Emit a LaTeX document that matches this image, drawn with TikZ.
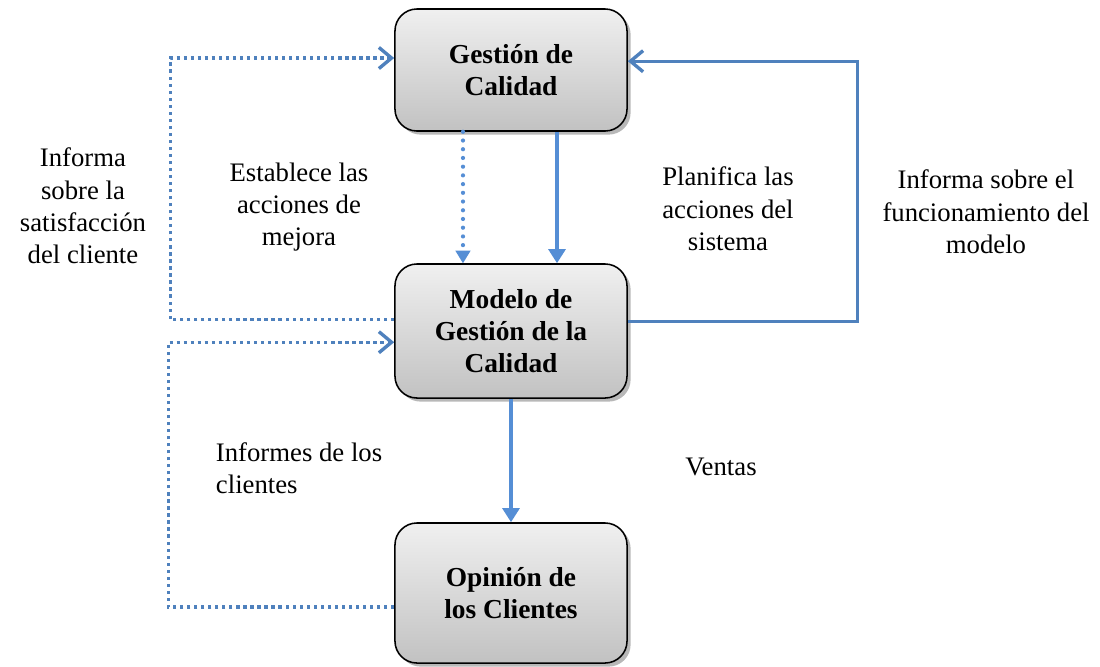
\documentclass[tikz,border=0pt]{standalone}
\usepackage{fontspec}
\setmainfont{Liberation Serif}
\usetikzlibrary{positioning}
\usetikzlibrary{arrows.meta}
\usetikzlibrary{shadows}
\definecolor{lineblue}{HTML}{4F81BD}
\definecolor{arrowblue}{HTML}{558ED5}

\begin{document}
\begin{tikzpicture}[x=0.025cm,y=-0.025cm,
	caja/.style={draw=black,line width=1.1pt,rounded corners=0.55cm,
		top color=gray!12,bottom color=gray!48,
		drop shadow={shadow xshift=0.09cm,shadow yshift=-0.09cm,fill=gray!70,opacity=0.8},
		minimum width=5.8cm,minimum height=3.05cm,align=center,
		font=\fontsize{19.5pt}{23pt}\selectfont\bfseries},
	etiqueta/.style={align=center,font=\fontsize{19pt}{23pt}\selectfont},
	punteada/.style={lineblue,line width=2.4pt,dash pattern=on 2.3pt off 2.7pt,
		-{Straight Barb[length=9pt,width=15pt,line width=2.4pt]}},
	puntos/.style={arrowblue,line width=3pt,line cap=round,dash pattern=on 0pt off 6.2pt,
		-{Triangle[length=9pt,width=11pt,line cap=butt,line width=0pt]}},
	flecha/.style={arrowblue,line width=2.4pt,-{Triangle[length=10pt,width=12pt]}},
	lazo/.style={lineblue,line width=2.4pt,-{Straight Barb[length=9pt,width=15pt,line width=2.4pt]}}]
	\useasboundingbox (0,0) rectangle (1100,666);
	\node[caja] (gestion) at (511,70) {Gestión de\\Calidad};
	\node[caja,minimum height=3.35cm] (modelo) at (511,331) {Modelo de\\Gestión de la\\Calidad};
	\node[caja,minimum height=3.5cm] (opinion) at (511,593) {Opinión de\\los Clientes};
	\draw[punteada] ([yshift=0.28cm]modelo.west) -- ++(-224,0) |- ([yshift=0.3cm]gestion.west);
	\draw[punteada] ([yshift=-0.35cm]opinion.west) -- ++(-226,0) |- ([yshift=-0.28cm]modelo.west);
	\draw[puntos] ([xshift=-1.2cm]gestion.south) -- ([xshift=-1.2cm]modelo.north);
	\draw[flecha] ([xshift=1.15cm]gestion.south) -- ([xshift=1.15cm]modelo.north);
	\draw[lazo] ([yshift=0.23cm]modelo.east) -- ++(230,0) |- ([yshift=0.22cm]gestion.east);
	\draw[flecha] (modelo.south) -- (opinion.north);
	\node[etiqueta] (satisfaccion) at (83,206) {Informa\\sobre la\\satisfacción\\del cliente};
	\node[etiqueta] (mejora) at (299,207) {Establece las\\acciones de\\mejora};
	\node[etiqueta] (planifica) at (728,209) {Planifica las\\acciones del\\sistema};
	\node[etiqueta] (funcionamiento) at (986,212) {Informa sobre el\\funcionamiento del\\modelo};
	\node[etiqueta,align=left,anchor=west] (informes) at (211,468) {Informes de los\\clientes};
	\node[etiqueta] (ventas) at (721,467) {Ventas};
\end{tikzpicture}
\end{document}
